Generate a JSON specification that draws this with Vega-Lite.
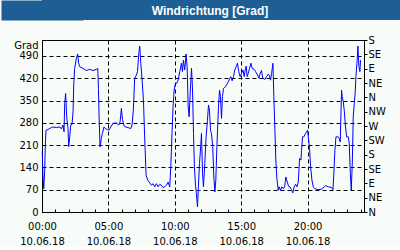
{
  "$schema": "https://vega.github.io/schema/vega-lite/v6.json",
  "padding": 0,
  "background": "#f8fcf8",
  "spacing": 14,
  "config": {
    "font": "DejaVu Sans",
    "axis": {"labelFont": "DejaVu Sans", "titleFont": "DejaVu Sans", "labelColor": "black", "titleColor": "black", "domainColor": "black", "tickColor": "black"}
  },
  "vconcat": [
    {
      "width": 359,
      "height": 20,
      "view": {"fill": "#1d5e94", "stroke": null},
      "data": {"values": [{"t": "Windrichtung [Grad]"}]},
      "mark": {"type": "text", "color": "white", "font": "Liberation Sans", "fontWeight": "bold", "fontSize": 12, "dx": -11.5, "dy": 0.5},
      "encoding": {
        "text": {"field": "t"},
        "y": {
          "datum": 0.5, "type": "quantitative",
          "scale": {"domain": [0, 1], "nice": false, "zero": false},
          "axis": {"orient": "left", "labels": false, "ticks": false, "grid": false, "title": null,
                   "domain": true, "domainColor": "#1d5e94", "domainWidth": 82, "domainCap": "butt",
                   "minExtent": 41, "maxExtent": 41}
        }
      }
    },
    {
      "width": 322,
      "height": 172,
      "view": {"stroke": "black", "fill": "#f8fcf8"},
      "data": {"values": [
        {"h": 0.02, "v": 189}, {"h": 0.07, "v": 115}, {"h": 0.13, "v": 73}, {"h": 0.2, "v": 126}, {"h": 0.25, "v": 210},
        {"h": 0.3, "v": 257}, {"h": 0.45, "v": 259}, {"h": 0.7, "v": 265}, {"h": 0.83, "v": 267}, {"h": 1.08, "v": 265},
        {"h": 1.33, "v": 267}, {"h": 1.46, "v": 261}, {"h": 1.58, "v": 273}, {"h": 1.66, "v": 252}, {"h": 1.71, "v": 341},
        {"h": 1.78, "v": 372}, {"h": 1.86, "v": 299}, {"h": 1.96, "v": 262}, {"h": 2.01, "v": 205}, {"h": 2.09, "v": 236},
        {"h": 2.16, "v": 273}, {"h": 2.26, "v": 275}, {"h": 2.34, "v": 315}, {"h": 2.39, "v": 399}, {"h": 2.46, "v": 451},
        {"h": 2.59, "v": 483}, {"h": 2.69, "v": 496}, {"h": 2.76, "v": 467}, {"h": 2.84, "v": 456}, {"h": 3.09, "v": 451},
        {"h": 3.34, "v": 444}, {"h": 3.59, "v": 448}, {"h": 3.84, "v": 444}, {"h": 4.1, "v": 448}, {"h": 4.2, "v": 451},
        {"h": 4.25, "v": 388}, {"h": 4.3, "v": 299}, {"h": 4.37, "v": 205}, {"h": 4.47, "v": 231}, {"h": 4.55, "v": 247},
        {"h": 4.67, "v": 267}, {"h": 4.77, "v": 262}, {"h": 4.92, "v": 259}, {"h": 5.05, "v": 257}, {"h": 5.18, "v": 267},
        {"h": 5.35, "v": 278}, {"h": 5.6, "v": 280}, {"h": 5.78, "v": 273}, {"h": 5.88, "v": 283}, {"h": 5.98, "v": 325},
        {"h": 6.06, "v": 291}, {"h": 6.18, "v": 270}, {"h": 6.31, "v": 267}, {"h": 6.48, "v": 265}, {"h": 6.68, "v": 262},
        {"h": 6.78, "v": 273}, {"h": 6.88, "v": 320}, {"h": 6.98, "v": 420}, {"h": 7.11, "v": 430}, {"h": 7.19, "v": 441},
        {"h": 7.29, "v": 498}, {"h": 7.36, "v": 521}, {"h": 7.44, "v": 467}, {"h": 7.54, "v": 414}, {"h": 7.64, "v": 351},
        {"h": 7.74, "v": 226}, {"h": 7.84, "v": 115}, {"h": 7.99, "v": 98}, {"h": 8.12, "v": 91}, {"h": 8.24, "v": 84},
        {"h": 8.37, "v": 89}, {"h": 8.49, "v": 79}, {"h": 8.62, "v": 89}, {"h": 8.74, "v": 79}, {"h": 8.87, "v": 87},
        {"h": 8.99, "v": 84}, {"h": 9.12, "v": 77}, {"h": 9.25, "v": 79}, {"h": 9.37, "v": 84}, {"h": 9.5, "v": 94},
        {"h": 9.62, "v": 79}, {"h": 9.7, "v": 142}, {"h": 9.8, "v": 257}, {"h": 9.87, "v": 330}, {"h": 9.95, "v": 383},
        {"h": 10.05, "v": 404}, {"h": 10.15, "v": 404}, {"h": 10.25, "v": 414}, {"h": 10.38, "v": 441}, {"h": 10.5, "v": 467},
        {"h": 10.58, "v": 441}, {"h": 10.65, "v": 477}, {"h": 10.75, "v": 446}, {"h": 10.85, "v": 496}, {"h": 10.93, "v": 456},
        {"h": 11.01, "v": 330}, {"h": 11.08, "v": 299}, {"h": 11.16, "v": 372}, {"h": 11.26, "v": 451}, {"h": 11.33, "v": 393},
        {"h": 11.41, "v": 247}, {"h": 11.48, "v": 142}, {"h": 11.56, "v": 84}, {"h": 11.63, "v": 58}, {"h": 11.71, "v": 16},
        {"h": 11.78, "v": 79}, {"h": 11.86, "v": 152}, {"h": 11.96, "v": 210}, {"h": 12.01, "v": 247}, {"h": 12.09, "v": 121},
        {"h": 12.16, "v": 79}, {"h": 12.26, "v": 152}, {"h": 12.36, "v": 236}, {"h": 12.46, "v": 288}, {"h": 12.54, "v": 336},
        {"h": 12.61, "v": 320}, {"h": 12.69, "v": 257}, {"h": 12.76, "v": 247}, {"h": 12.86, "v": 205}, {"h": 12.94, "v": 110},
        {"h": 13.02, "v": 63}, {"h": 13.09, "v": 100}, {"h": 13.17, "v": 205}, {"h": 13.22, "v": 257}, {"h": 13.29, "v": 330},
        {"h": 13.37, "v": 383}, {"h": 13.44, "v": 362}, {"h": 13.52, "v": 294}, {"h": 13.59, "v": 362}, {"h": 13.67, "v": 388},
        {"h": 13.82, "v": 393}, {"h": 13.97, "v": 404}, {"h": 14.15, "v": 420}, {"h": 14.22, "v": 425}, {"h": 14.32, "v": 412},
        {"h": 14.42, "v": 425}, {"h": 14.52, "v": 446}, {"h": 14.62, "v": 456}, {"h": 14.72, "v": 467}, {"h": 14.82, "v": 441},
        {"h": 14.92, "v": 425}, {"h": 15.03, "v": 435}, {"h": 15.13, "v": 446}, {"h": 15.23, "v": 425}, {"h": 15.3, "v": 446},
        {"h": 15.38, "v": 458}, {"h": 15.45, "v": 425}, {"h": 15.53, "v": 435}, {"h": 15.63, "v": 451}, {"h": 15.73, "v": 467},
        {"h": 15.83, "v": 451}, {"h": 15.98, "v": 448}, {"h": 16.08, "v": 441}, {"h": 16.23, "v": 430}, {"h": 16.33, "v": 420},
        {"h": 16.43, "v": 435}, {"h": 16.53, "v": 444}, {"h": 16.63, "v": 420}, {"h": 16.78, "v": 416}, {"h": 16.91, "v": 425},
        {"h": 17.04, "v": 433}, {"h": 17.14, "v": 427}, {"h": 17.21, "v": 414}, {"h": 17.29, "v": 435}, {"h": 17.39, "v": 467},
        {"h": 17.46, "v": 362}, {"h": 17.54, "v": 257}, {"h": 17.61, "v": 163}, {"h": 17.69, "v": 105}, {"h": 17.79, "v": 68},
        {"h": 17.86, "v": 79}, {"h": 17.96, "v": 68}, {"h": 18.07, "v": 79}, {"h": 18.17, "v": 73}, {"h": 18.27, "v": 79},
        {"h": 18.37, "v": 110}, {"h": 18.47, "v": 94}, {"h": 18.57, "v": 81}, {"h": 18.67, "v": 79}, {"h": 18.79, "v": 70},
        {"h": 18.89, "v": 60}, {"h": 18.99, "v": 79}, {"h": 19.1, "v": 87}, {"h": 19.2, "v": 79}, {"h": 19.3, "v": 94},
        {"h": 19.4, "v": 168}, {"h": 19.5, "v": 163}, {"h": 19.55, "v": 194}, {"h": 19.62, "v": 236}, {"h": 19.72, "v": 236},
        {"h": 19.85, "v": 247}, {"h": 19.92, "v": 252}, {"h": 20.0, "v": 257}, {"h": 20.08, "v": 226}, {"h": 20.15, "v": 199},
        {"h": 20.23, "v": 142}, {"h": 20.33, "v": 100}, {"h": 20.43, "v": 79}, {"h": 20.55, "v": 73}, {"h": 20.8, "v": 70},
        {"h": 21.06, "v": 72}, {"h": 21.26, "v": 79}, {"h": 21.36, "v": 83}, {"h": 21.56, "v": 79}, {"h": 21.81, "v": 77},
        {"h": 21.91, "v": 70}, {"h": 21.98, "v": 121}, {"h": 22.06, "v": 194}, {"h": 22.14, "v": 236}, {"h": 22.26, "v": 236},
        {"h": 22.36, "v": 234}, {"h": 22.46, "v": 220}, {"h": 22.56, "v": 383}, {"h": 22.61, "v": 362}, {"h": 22.69, "v": 346},
        {"h": 22.76, "v": 320}, {"h": 22.86, "v": 267}, {"h": 22.94, "v": 236}, {"h": 23.07, "v": 236}, {"h": 23.14, "v": 215},
        {"h": 23.22, "v": 121}, {"h": 23.29, "v": 68}, {"h": 23.37, "v": 157}, {"h": 23.44, "v": 299}, {"h": 23.52, "v": 341},
        {"h": 23.59, "v": 378}, {"h": 23.64, "v": 425}, {"h": 23.72, "v": 467}, {"h": 23.79, "v": 521}, {"h": 23.87, "v": 456},
        {"h": 23.94, "v": 441}, {"h": 23.99, "v": 477}
      ]},
      "layer": [
        {
          "mark": {"type": "line", "color": "#0000ff", "strokeWidth": 1},
          "encoding": {
            "x": {
              "field": "h", "type": "quantitative",
              "scale": {"domain": [0, 24.25], "nice": false, "zero": false},
              "axis": {
                "orient": "bottom",
                "values": [0,1,2,3,4,5,6,7,8,9,10,11,12,13,14,15,16,17,18,19,20,21,22,23,24],
                "grid": true, "gridDash": [4, 3], "gridColor": "black", "gridWidth": 1,
                "gridOpacity": {"condition": {"test": "datum.value % 5 === 0 && datum.value > 0", "value": 1}, "value": 0},
                "tickSize": -3, "tickWidth": 1,
                "labelExpr": "datum.value % 5 === 0 ? [(datum.value < 10 ? '0' : '') + datum.value + ':00', '10.06.18'] : ''",
                "labelFlush": false, "labelOverlap": false, "labelPadding": 12, "labelLineHeight": 15, "labelFontSize": 10,
                "title": null
              }
            },
            "y": {
              "field": "v", "type": "quantitative",
              "scale": {"domain": [0, 540], "nice": false, "zero": false},
              "axis": {
                "orient": "left",
                "values": [0, 70, 140, 210, 280, 350, 420, 490],
                "grid": true, "gridDash": [4, 3], "gridColor": "black", "gridWidth": 1, "gridOpacity": 1,
                "tickSize": 0, "labelPadding": 4, "labelFontSize": 10, "labelOverlap": false, "labelFlush": false,
                "title": "Grad", "titleAngle": 0, "titleAlign": "right", "titleBaseline": "middle",
                "titleX": -4, "titleY": 5.5, "titleFontWeight": "normal", "titleFontSize": 10,
                "minExtent": 41, "maxExtent": 41
              }
            }
          }
        },
        {
          "mark": {"type": "point", "opacity": 0, "size": 1},
          "encoding": {
            "y": {
              "field": "v", "type": "quantitative",
              "axis": {
                "orient": "right",
                "values": [0, 45, 90, 135, 180, 225, 270, 315, 360, 405, 450, 495, 540],
                "grid": false, "tickSize": 3, "labelPadding": 1, "labelFontSize": 10,
                "labelExpr": "['N','NE','E','SE','S','SW','W','NW'][(datum.value / 45) % 8]",
                "labelOverlap": false, "labelFlush": false, "title": null
              }
            }
          }
        }
      ],
      "resolve": {"axis": {"y": "independent"}}
    }
  ]
}
